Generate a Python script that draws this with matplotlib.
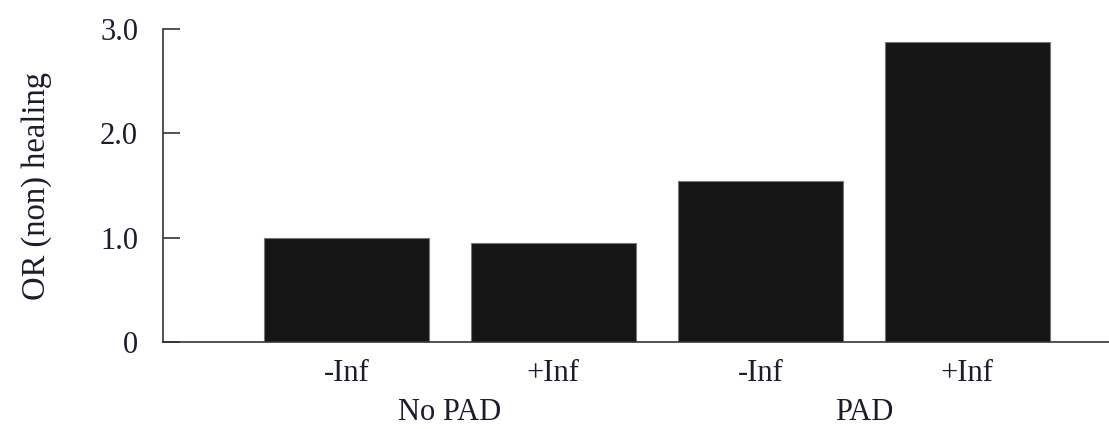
import matplotlib

matplotlib.use("Agg")
import matplotlib.pyplot as plt
import matplotlib.transforms as mtransforms

plt.rcParams["font.family"] = ["Liberation Serif", "DejaVu Serif"]

# данные
conditions = ["-Inf", "+Inf", "-Inf", "+Inf"]
groups = ["No PAD", "PAD"]
odds_ratio = [1.0, 0.95, 1.54, 2.88]
y_ticks = [0, 1.0, 2.0, 3.0]
y_tick_labels = ["0", "1.0", "2.0", "3.0"]

BAR = "#151515"
TXT = "#1c1c2c"
AX = "#333333"

fig = plt.figure(figsize=(11.09, 4.29), dpi=100)
ax = fig.add_axes([0.147, 0.203, 0.853, 0.729])

x = list(range(len(odds_ratio)))
ax.bar(x, odds_ratio, width=0.8, color=BAR, edgecolor="#777777", linewidth=0.8)

ax.set_xlim(-0.886, 3.684)
ax.set_ylim(0, 3.0)

ax.set_yticks(y_ticks)
ax.set_yticklabels(y_tick_labels)
ax.tick_params(axis="y", direction="in", length=12, width=1.2, color=AX,
               labelsize=22, labelcolor=TXT, pad=18)
ax.set_xticks(x)
ax.set_xticklabels(conditions)
ax.tick_params(axis="x", length=0, labelsize=22, labelcolor=TXT, pad=12)

for side in ("top", "right"):
    ax.spines[side].set_visible(False)
for side in ("left", "bottom"):
    ax.spines[side].set_color(AX)
    ax.spines[side].set_linewidth(1.2)

ax.set_ylabel("OR (non) healing", fontsize=23.5, color=TXT, va="center")
ax.yaxis.set_label_coords(-0.134, 0.5)

# подписи групп под парами столбцов
trans = mtransforms.blended_transform_factory(ax.transData, fig.transFigure)
for i, g in enumerate(groups):
    ax.text(2 * i + 0.5, 1 - 413 / 429, g, ha="center", va="center",
            fontsize=22, color=TXT, transform=trans)

fig.savefig("out.png", dpi=100, facecolor="white")
